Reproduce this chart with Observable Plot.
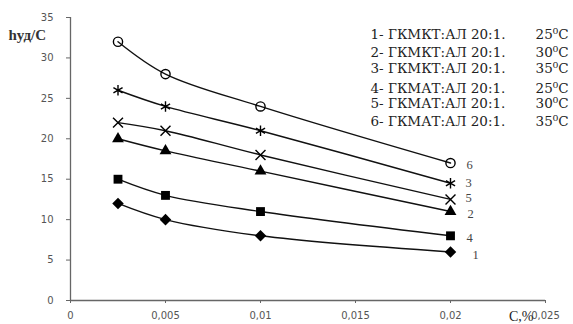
<!DOCTYPE html>
<html>
<head>
<meta charset="utf-8">
<script src="https://cdn.jsdelivr.net/npm/d3@7"></script>
<script src="https://cdn.jsdelivr.net/npm/@observablehq/plot@0.6"></script>
<style>
  html, body { margin: 0; padding: 0; background: #fff; }
  #chart { width: 573px; height: 324px; overflow: hidden; }
</style>
</head>
<body>
<div id="chart"></div>
<script>
// Concentration, C %
const conc = [0.0025, 0.005, 0.01, 0.02];

// Specific viscosity per curve (curve number -> values at each concentration)
const curve1 = [12, 10, 8, 6];
const curve2 = [20, 18.5, 16, 11];
const curve3 = [26, 24, 21, 14.5];
const curve4 = [15, 13, 11, 8];
const curve5 = [22, 21, 18, 12.5];
const curve6 = [32, 28, 24, 17];

const curveIds = ["1", "2", "3", "4", "5", "6"];
const curveValues = [curve1, curve2, curve3, curve4, curve5, curve6];

// Legend entries
const legendNames = [
  "1- ГКМКТ:АЛ 20:1.",
  "2- ГКМКТ:АЛ 20:1.",
  "3- ГКМКТ:АЛ 20:1.",
  "4- ГКМАТ:АЛ 20:1.",
  "5- ГКМАТ:АЛ 20:1.",
  "6- ГКМАТ:АЛ 20:1."
];
const legendTemps = ["25⁰C", "30⁰C", "35⁰C", "25⁰C", "30⁰C", "35⁰C"];

// Axis ticks
const xTicks = [0, 0.005, 0.01, 0.015, 0.02, 0.025];
const xTickLabels = ["0", "0,005", "0,01", "0,015", "0,02", "0,025"];
const yTicks = [0, 5, 10, 15, 20, 25, 30, 35];

// Marker style for each curve
const markerStyle = {
  "1": {symbol: "diamond2", fill: "#000", stroke: "none", r: 5.2},
  "2": {symbol: "triangle", fill: "#000", stroke: "none", r: 4.4},
  "3": {symbol: "asterisk", fill: "none", stroke: "#000", r: 5},
  "4": {symbol: "square", fill: "#000", stroke: "none", r: 5},
  "5": {symbol: "times", fill: "none", stroke: "#000", r: 4.6},
  "6": {symbol: "circle", fill: "none", stroke: "#000", r: 4.6}
};

// Layout: vertical offset of each legend row from the frame top,
// and offsets of the curve numbers from each curve's last point
const legendRowDy = [12, 30, 46, 66, 81, 99];
const endLabelDx = {"1": 25, "2": 20, "3": 18, "4": 19, "5": 18, "6": 19};
const endLabelDy = {"1": 3, "2": 2, "3": 0, "4": 2, "5": -1, "6": 2};

const rows = curveIds.flatMap((id, i) =>
  conc.map((c, j) => ({id, c, v: curveValues[i][j]}))
);
const lastPoints = curveIds.map((id, i) => ({id, c: conc[conc.length - 1], v: curveValues[i][conc.length - 1]}));

const serif = "'Liberation Serif', 'DejaVu Serif', serif";
const wideSerif = "'DejaVu Serif', 'Liberation Serif', serif";
const sans = "'DejaVu Sans', Verdana, sans-serif";

const chart = Plot.plot({
  width: 573,
  height: 324,
  marginLeft: 70,
  marginRight: 28,
  marginTop: 17,
  marginBottom: 24,
  x: {domain: [0, 0.025], axis: null},
  y: {domain: [0, 35], axis: null},
  style: {background: "#fff", overflow: "visible"},
  marks: [
    Plot.ruleX([0], {stroke: "#666", strokeWidth: 1.3}),
    Plot.ruleY([0], {stroke: "#666", strokeWidth: 1.3}),
    Plot.axisY({
      ticks: yTicks, tickSize: 4, tickPadding: 13, stroke: "#666",
      fontSize: 10, fontFamily: sans, fill: "#555", label: null
    }),
    Plot.axisX({
      ticks: xTicks, tickFormat: d => xTickLabels[xTicks.indexOf(d)],
      tickSize: 3, tickPadding: 8, stroke: "#666",
      fontSize: 10, fontFamily: sans, fill: "#555", label: null
    }),
    Plot.line(rows, {x: "c", y: "v", z: "id", curve: "catmull-rom", stroke: "#111", strokeWidth: 1.4}),
    ...curveIds.map(id => Plot.dot(rows.filter(d => d.id === id), {
      x: "c", y: "v",
      symbol: () => markerStyle[id].symbol,
      r: markerStyle[id].r,
      fill: markerStyle[id].fill,
      stroke: markerStyle[id].stroke,
      strokeWidth: 1.4
    })),
    ...curveIds.map((id, i) => Plot.text([lastPoints[i]], {
      x: "c", y: "v", text: "id", dx: endLabelDx[id], dy: endLabelDy[id], textAnchor: "middle",
      fontFamily: serif, fontSize: 12.5, fill: "#444"
    })),
    Plot.text(["hуд/C"], {
      frameAnchor: "top-left", dx: -62, dy: 12, textAnchor: "start",
      fontFamily: serif, fontSize: 15, fontWeight: "bold", fill: "#333"
    }),
    Plot.text(["C,%"], {
      frameAnchor: "bottom-right", dx: -12, dy: 20, textAnchor: "end", lineAnchor: "bottom",
      fontFamily: serif, fontSize: 14, fill: "#222"
    }),
    ...legendNames.map((name, i) => Plot.text([name], {
      frameAnchor: "top-right", dx: -175, dy: legendRowDy[i], textAnchor: "start",
      fontFamily: wideSerif, fontSize: 13.5, fill: "#222"
    })),
    ...legendTemps.map((t, i) => Plot.text([t], {
      frameAnchor: "top-right", dx: 23, dy: legendRowDy[i], textAnchor: "end",
      fontFamily: wideSerif, fontSize: 13.5, fill: "#222"
    }))
  ]
});

document.getElementById("chart").appendChild(chart);
</script>
</body>
</html>
